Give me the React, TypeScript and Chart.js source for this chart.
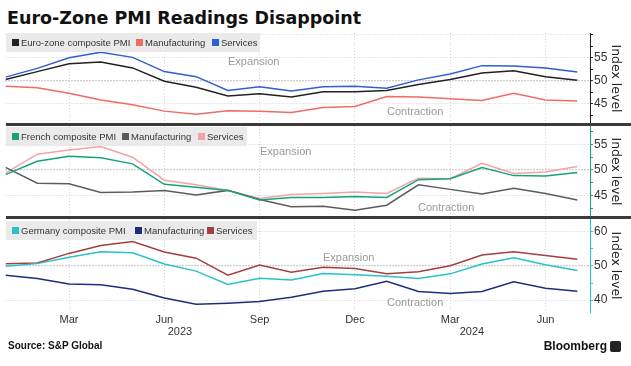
import React, { useEffect, useRef } from "react";
import { Chart, registerables } from "chart.js";

Chart.register(...registerables);

// ---------- data ----------
const months = [
  "Jan 2023", "Feb 2023", "Mar 2023", "Apr 2023", "May 2023", "Jun 2023",
  "Jul 2023", "Aug 2023", "Sep 2023", "Oct 2023", "Nov 2023", "Dec 2023",
  "Jan 2024", "Feb 2024", "Mar 2024", "Apr 2024", "May 2024", "Jun 2024", "Jul 2024",
];
const xTickMonths = ["Mar 2023", "Jun 2023", "Sep 2023", "Dec 2023", "Mar 2024", "Jun 2024"];
const xTickLabels = ["Mar", "Jun", "Sep", "Dec", "Mar", "Jun"];
const yearLabels = ["2023", "2024"];

const euroComposite = [50.3, 52.0, 53.7, 54.1, 52.8, 49.9, 48.6, 46.7, 47.2, 46.5, 47.6, 47.6, 47.9, 49.2, 50.3, 51.7, 52.2, 50.9, 50.1];
const euroManufacturing = [48.8, 48.5, 47.3, 45.8, 44.8, 43.4, 42.7, 43.5, 43.4, 43.1, 44.2, 44.4, 46.6, 46.5, 46.1, 45.7, 47.3, 45.8, 45.6];
const euroServices = [50.8, 52.7, 55.0, 56.2, 55.1, 52.0, 50.9, 47.9, 48.7, 47.8, 48.7, 48.8, 48.4, 50.2, 51.5, 53.3, 53.2, 52.8, 51.9];

const frComposite = [49.1, 51.7, 52.7, 52.4, 51.2, 47.2, 46.6, 46.0, 44.1, 44.6, 44.6, 44.8, 44.6, 48.1, 48.3, 50.5, 48.9, 48.8, 49.5];
const frManufacturing = [50.5, 47.4, 47.3, 45.6, 45.7, 46.0, 45.1, 46.0, 44.2, 42.8, 42.9, 42.1, 43.1, 47.1, 46.2, 45.3, 46.4, 45.4, 44.1];
const frServices = [49.4, 53.1, 53.9, 54.6, 52.5, 48.0, 47.1, 46.0, 44.4, 45.2, 45.4, 45.7, 45.4, 48.4, 48.3, 51.3, 49.3, 49.6, 50.7];

const deComposite = [49.9, 50.7, 52.6, 54.2, 53.9, 50.6, 48.5, 44.6, 46.4, 45.9, 47.8, 47.4, 47.0, 46.3, 47.7, 50.6, 52.4, 50.4, 48.7];
const deManufacturing = [47.3, 46.3, 44.7, 44.5, 43.2, 40.6, 38.8, 39.1, 39.6, 40.8, 42.6, 43.3, 45.5, 42.5, 41.9, 42.5, 45.4, 43.5, 42.6];
const deServices = [50.7, 50.9, 53.7, 56.0, 57.2, 54.1, 52.3, 47.3, 50.3, 48.2, 49.6, 49.3, 47.7, 48.3, 50.1, 53.2, 54.2, 53.1, 52.0];

const panel1Ticks = [42.5, 45, 47.5, 50, 52.5, 55, 57.5, 60];
const panel1Labels = [45, 50, 55];
const panel2Ticks = [42.5, 45, 47.5, 50, 52.5, 55, 57.5];
const panel2Labels = [45, 50, 55];
const panel3Ticks = [40, 45, 50, 55, 60];
const panel3Labels = [40, 50, 60];

// ---------- styling ----------
const FONT = "'Liberation Sans', Arial, sans-serif";
const X_MAX = 18.4;

type Series = { label: string; values: number[]; color: string };

type PanelProps = {
  top: number;
  height: number;
  series: Series[];
  yMin: number;
  yMax: number;
  yTicks: number[];
  yLabels: number[];
  yGrid: number[];
  axisColor: string;
  showX: boolean;
};

function PanelChart(p: PanelProps) {
  const ref = useRef<HTMLCanvasElement>(null);
  useEffect(() => {
    const xTickIdx = xTickMonths.map((m) => months.indexOf(m));
    const chart = new Chart(ref.current as HTMLCanvasElement, {
      type: "line",
      data: {
        datasets: p.series.map((s) => ({
          label: s.label,
          data: s.values.map((v, i) => ({ x: i, y: v })),
          borderColor: s.color,
          backgroundColor: s.color,
          borderWidth: 1.5,
          pointRadius: 0,
          tension: 0,
          fill: false,
        })),
      },
      options: {
        animation: false,
        responsive: false,
        devicePixelRatio: 1,
        layout: { autoPadding: false, padding: { left: 5.5, right: 0, top: 0, bottom: 0 } },
        plugins: { legend: { display: false }, tooltip: { enabled: false } },
        scales: {
          x: {
            type: "linear",
            min: 0,
            max: X_MAX,
            afterBuildTicks: (s: any) => {
              s.ticks = xTickIdx.map((v) => ({ value: v }));
            },
            afterFit: (s: any) => {
              s.height = p.showX ? 16 : 0;
              s.paddingLeft = 0;
              s.paddingRight = 0;
            },
            ticks: {
              display: p.showX,
              autoSkip: false,
              maxRotation: 0,
              padding: 1,
              color: "#333",
              font: { family: FONT, size: 11 },
              callback: (_v: any, i: number) => xTickLabels[i],
            },
            grid: { color: "#d4d4d4", drawTicks: false, lineWidth: 1 },
            border: { display: false, dash: [1, 2] },
          },
          y: {
            type: "linear",
            position: "right",
            min: p.yMin,
            max: p.yMax,
            afterBuildTicks: (s: any) => {
              s.ticks = p.yTicks.map((v) => ({ value: v }));
            },
            afterFit: (s: any) => {
              s.width = 41;
              s.paddingTop = 0;
              s.paddingBottom = 0;
            },
            ticks: {
              autoSkip: false,
              padding: 1,
              color: "#333",
              font: { family: FONT, size: 12 },
              callback: (v: any) => (p.yLabels.includes(Number(v)) ? String(v) : ""),
            },
            grid: {
              color: (ctx: any) => {
                const v = ctx.tick ? ctx.tick.value : null;
                if (v === 50) return "#9a9a9a";
                return p.yGrid.includes(v) ? "#d0d0d0" : "rgba(0,0,0,0)";
              },
              lineWidth: (ctx: any) => (ctx.tick && ctx.tick.value === 50 ? 1.3 : 1),
              tickColor: p.axisColor,
              tickLength: 3,
              tickWidth: 1,
            },
            border: { display: true, color: p.axisColor, width: 1, dash: [1, 2] },
            title: {
              display: true,
              text: "Index level",
              color: "#222",
              font: { family: "'DejaVu Sans', sans-serif", size: 12.5 },
              padding: { top: 8, bottom: 0 },
            },
          },
        },
      } as any,
    });
    return () => chart.destroy();
  }, []);
  return (
    <div style={{ position: "absolute", left: 0, top: p.top, width: 631, height: p.height }}>
      <canvas ref={ref} width={631} height={p.height} style={{ display: "block" }} />
    </div>
  );
}

type LegendItem = { text: string; color: string; x: number };

function Legend({ top, width, items }: { top: number; width: number; items: LegendItem[] }) {
  return (
    <div
      style={{
        position: "absolute",
        left: 6,
        top,
        width,
        height: 19,
        background: "rgba(232,232,232,0.9)",
      }}
    >
      {items.map((it, i) => (
        <div key={i} style={{ position: "absolute", left: it.x - 6, top: 0, height: 19, display: "flex", alignItems: "center" }}>
          <span style={{ display: "inline-block", width: 7, height: 7, background: it.color, marginRight: 2 }} />
          <span style={{ font: `9.5px ${FONT}`, color: "#333", whiteSpace: "nowrap" }}>{it.text}</span>
        </div>
      ))}
    </div>
  );
}

function Note({ text, x, y }: { text: string; x: number; y: number }) {
  return (
    <div style={{ position: "absolute", left: x, top: y - 7, lineHeight: "14px", font: `11px ${FONT}`, color: "#9a9a9a", whiteSpace: "nowrap" }}>
      {text}
    </div>
  );
}

function Separator({ top }: { top: number }) {
  return <div style={{ position: "absolute", left: 6, top, width: 625, height: 3, background: "#3a3a3a" }} />;
}

export default function App() {
  const c1 = { comp: "#222222", man: "#ee6c64", serv: "#2f5fd0" };
  const c2 = { comp: "#14a47c", man: "#5c5c5c", serv: "#f4a3a3" };
  const c3 = { comp: "#27c2cc", man: "#1c2f7c", serv: "#a3403f" };
  return (
    <div style={{ position: "absolute", left: 0, top: 0, width: 631, height: 366, background: "#fff", overflow: "hidden" }}>
      <div
        style={{
          position: "absolute",
          left: 7,
          top: 8,
          lineHeight: "20px",
          font: "bold 17.5px 'DejaVu Sans', sans-serif",
          color: "#111",
          whiteSpace: "nowrap",
        }}
      >
        Euro-Zone PMI Readings Disappoint
      </div>

      <PanelChart
        top={33}
        height={91}
        series={[
          { label: "Euro-zone composite PMI", values: euroComposite, color: c1.comp },
          { label: "Manufacturing", values: euroManufacturing, color: c1.man },
          { label: "Services", values: euroServices, color: c1.serv },
        ]}
        yMin={40.6}
        yMax={60.4}
        yTicks={panel1Ticks}
        yLabels={panel1Labels}
        yGrid={[45, 50, 55, 60]}
        axisColor="#222"
        showX={false}
      />
      <PanelChart
        top={126}
        height={91}
        series={[
          { label: "French composite PMI", values: frComposite, color: c2.comp },
          { label: "Manufacturing", values: frManufacturing, color: c2.man },
          { label: "Services", values: frServices, color: c2.serv },
        ]}
        yMin={40.78}
        yMax={58.63}
        yTicks={panel2Ticks}
        yLabels={panel2Labels}
        yGrid={[45, 50, 55]}
        axisColor={c2.comp}
        showX={false}
      />
      <PanelChart
        top={219}
        height={109}
        series={[
          { label: "Germany composite PMI", values: deComposite, color: c3.comp },
          { label: "Manufacturing", values: deManufacturing, color: c3.man },
          { label: "Services", values: deServices, color: c3.serv },
        ]}
        yMin={36.5}
        yMax={63.8}
        yTicks={panel3Ticks}
        yLabels={panel3Labels}
        yGrid={[40, 50, 60]}
        axisColor={c3.comp}
        showX={true}
      />

      <Separator top={123} />
      <Separator top={216} />

      <Legend
        top={33}
        width={254}
        items={[
          { text: "Euro-zone composite PMI", color: c1.comp, x: 12 },
          { text: "Manufacturing", color: c1.man, x: 136 },
          { text: "Services", color: c1.serv, x: 212 },
        ]}
      />
      <Legend
        top={127}
        width={241}
        items={[
          { text: "French composite PMI", color: c2.comp, x: 12 },
          { text: "Manufacturing", color: c2.man, x: 122 },
          { text: "Services", color: c2.serv, x: 198 },
        ]}
      />
      <Legend
        top={221}
        width={251}
        items={[
          { text: "Germany composite PMI", color: c3.comp, x: 12 },
          { text: "Manufacturing", color: c3.man, x: 135 },
          { text: "Services", color: c3.serv, x: 207 },
        ]}
      />

      <Note text="Expansion" x={228} y={62} />
      <Note text="Contraction" x={387} y={112} />
      <Note text="Expansion" x={260} y={152} />
      <Note text="Contraction" x={418} y={208} />
      <Note text="Expansion" x={323} y={258} />
      <Note text="Contraction" x={387} y={303} />

      {yearLabels.map((y, i) => (
        <div
          key={y}
          style={{
            position: "absolute",
            left: (i === 0 ? 180 : 472) - 20,
            top: 325,
            width: 40,
            textAlign: "center",
            lineHeight: "14px",
            font: `11px ${FONT}`,
            color: "#333",
          }}
        >
          {y}
        </div>
      ))}

      <div style={{ position: "absolute", left: 8, top: 340, lineHeight: "12px", font: `bold 10px ${FONT}`, color: "#111", whiteSpace: "nowrap" }}>
        Source: S&amp;P Global
      </div>
      <div style={{ position: "absolute", right: 24, top: 339, lineHeight: "14px", font: `bold 12px ${FONT}`, color: "#111", whiteSpace: "nowrap" }}>
        Bloomberg
      </div>
      <div style={{ position: "absolute", left: 610, top: 341, width: 11, height: 11, background: "#222", borderRadius: 2 }} />
    </div>
  );
}
